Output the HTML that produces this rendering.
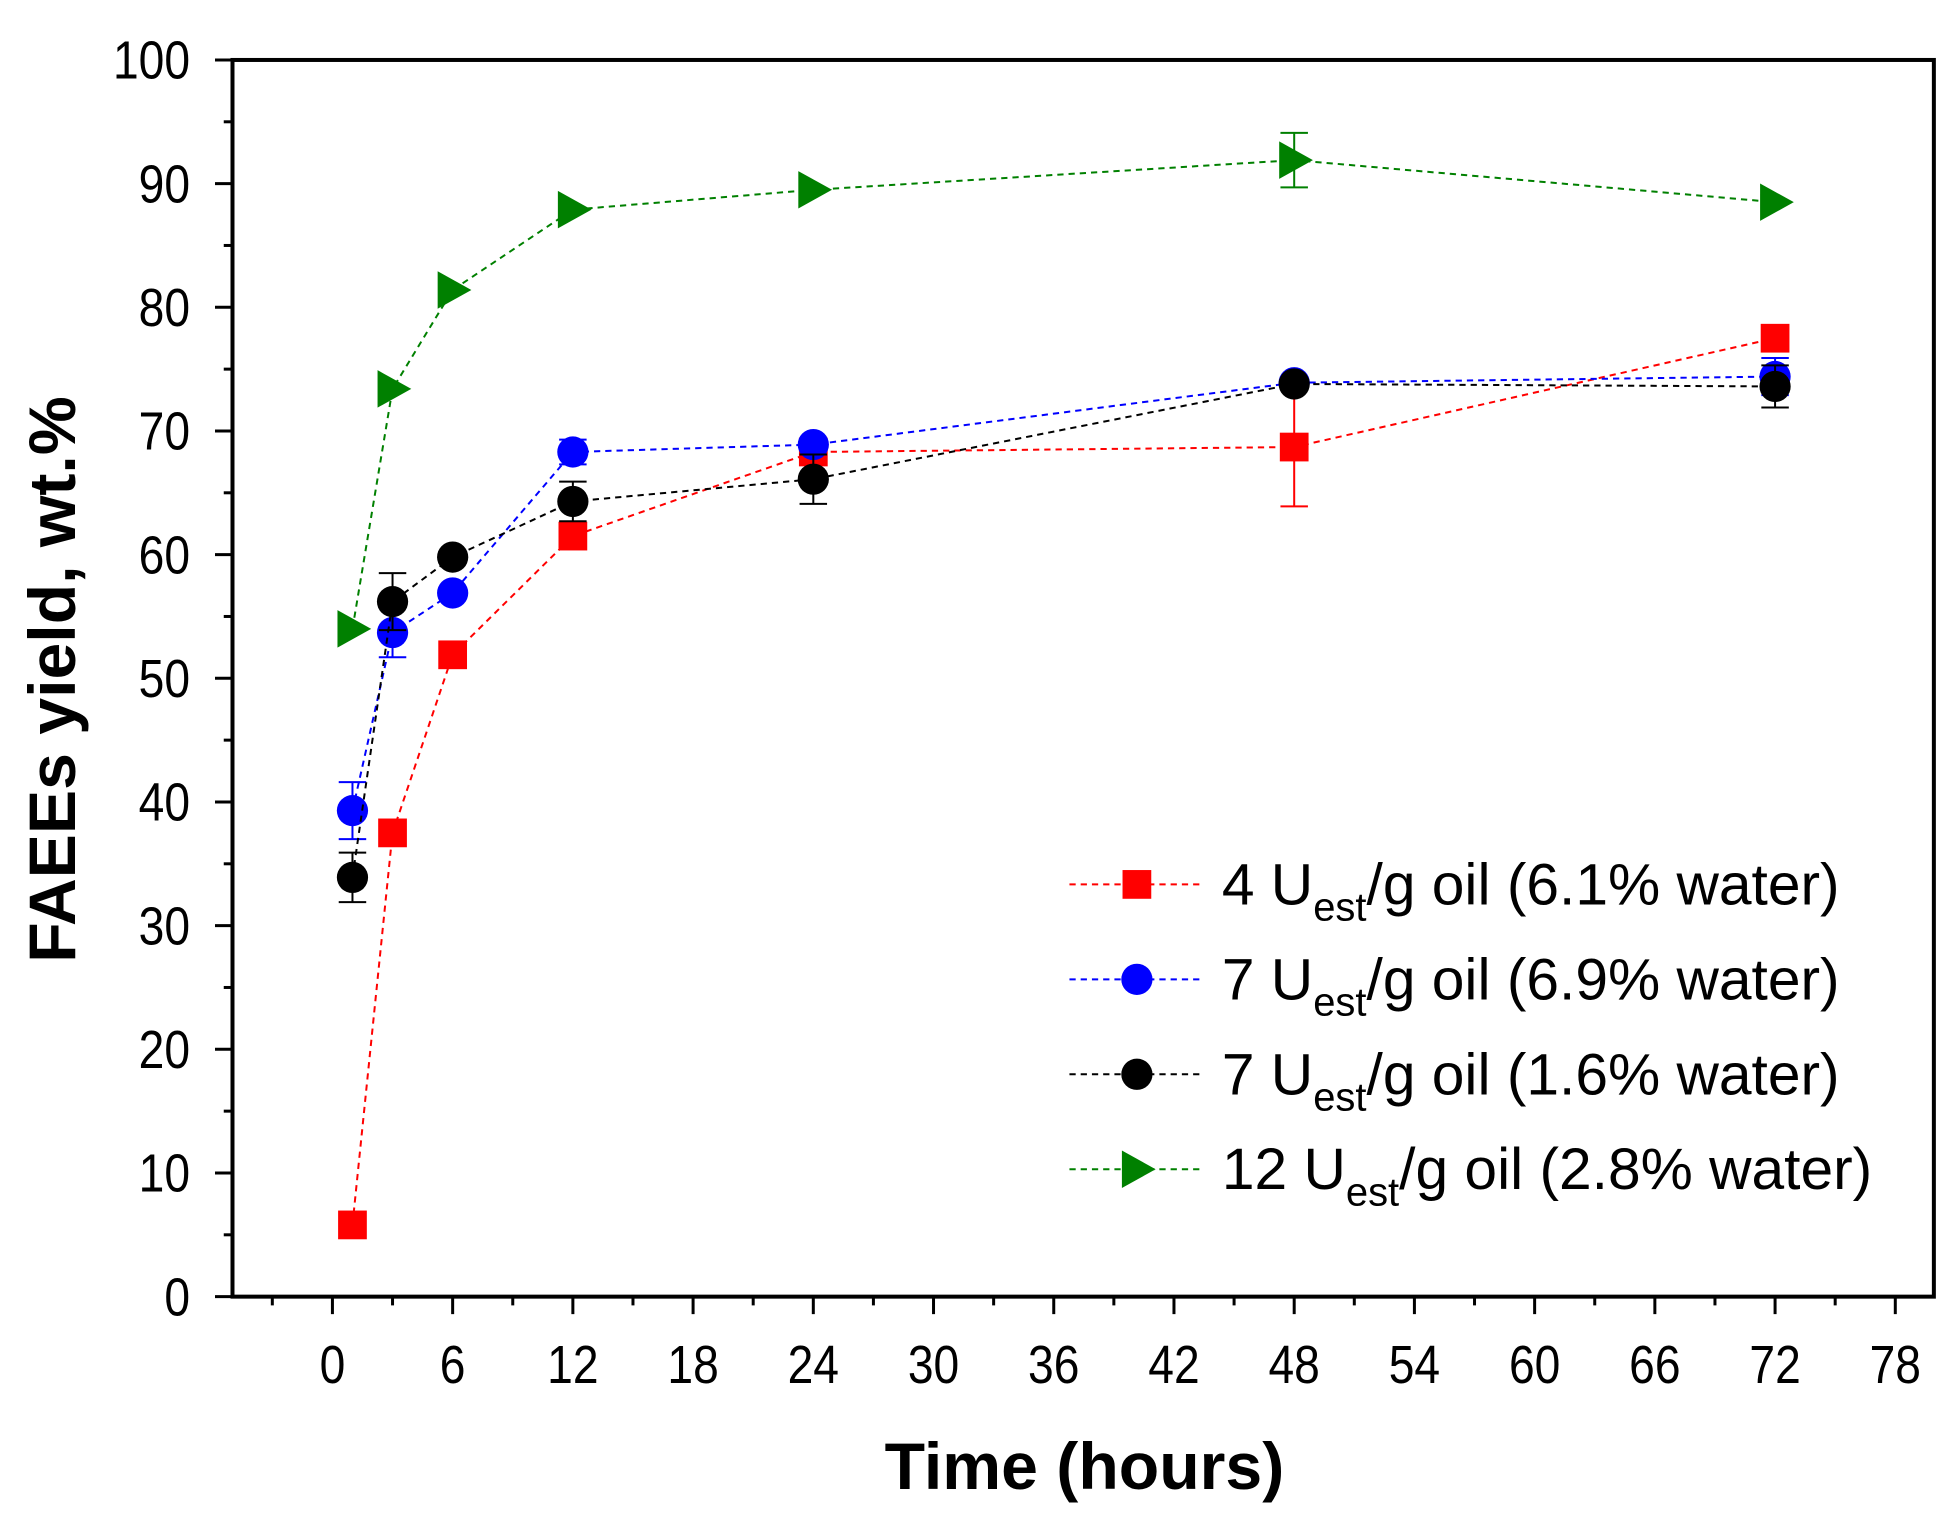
<!DOCTYPE html>
<html><head><meta charset="utf-8"><style>
html,body{margin:0;padding:0;background:#fff;}
svg{display:block;}
text{font-family:"Liberation Sans",Arial,sans-serif;}
</style></head><body>
<svg width="1959" height="1514" viewBox="0 0 1568 1212" xmlns="http://www.w3.org/2000/svg">
<rect width="1568" height="1212" fill="#fff"/>
<g id="plot"></g>
<script>
const NS="http://www.w3.org/2000/svg";
const g=document.getElementById('plot');
function el(t,a,p){const e=document.createElementNS(NS,t);for(const k in a)e.setAttribute(k,a[k]);(p||g).appendChild(e);return e;}
const X=h=>266+16.04*h, Y=v=>1038-9.9*v;
const SX=0.86;
el('rect',{x:186,y:48,width:1362,height:990,fill:'none',stroke:'#000','stroke-width':3.2});
for(let v=0;v<=100;v+=5){const maj=v%10==0;el('line',{x1:186,x2:maj?172:179,y1:Y(v),y2:Y(v),stroke:'#000','stroke-width':2.4});
 if(maj){const t=el('text',{x:152/SX,y:Y(v)+15,'font-size':43,'text-anchor':'end',transform:`scale(${SX},1)`});t.textContent=v;}}
for(let h=-3;h<=78;h+=3){const maj=h%6==0;el('line',{x1:X(h),x2:X(h),y1:1038,y2:maj?1052:1045,stroke:'#000','stroke-width':2.4});
 if(maj&&h>=0){const t=el('text',{x:X(h)/SX,y:1107,'font-size':43,'text-anchor':'middle',transform:`scale(${SX},1)`});t.textContent=h;}}
let t=el('text',{x:868,y:1192,'font-size':53,'font-weight':'bold','text-anchor':'middle'});t.textContent='Time (hours)';
t=el('text',{x:0,y:0,'font-size':53,'font-weight':'bold','text-anchor':'middle',transform:'translate(60,544) rotate(-90)'});t.textContent='FAEEs yield, wt.%';
const hs=[1,3,6,12,24,48,72];
const S=[
 {c:'#ff0000',m:'sq',v:[5.8,37.5,51.9,61.5,68.3,68.7,77.5],e:[0,0,0,0,1,4.8,1]},
 {c:'#0000ff',m:'ci',v:[39.3,53.7,56.9,68.3,68.9,73.9,74.4],e:[2.3,2,0,1,0.5,0,1.5]},
 {c:'#000000',m:'ci',v:[33.9,56.2,59.8,64.3,66.1,73.8,73.6],e:[2,2.3,0,1.6,2,0,1.7]},
 {c:'#008000',m:'tr',v:[54,73.4,81.4,87.9,89.5,91.9,88.5],e:[0,0,0,0,0,2.2,0]}];
function marker(m,x,y,c){
 if(m=='sq')el('rect',{x:x-11.5,y:y-11.5,width:23,height:23,fill:c});
 else if(m=='ci')el('circle',{cx:x,cy:y,r:12.5,fill:c});
 else el('polygon',{points:`${x-12},${y-15} ${x+15},${y} ${x-12},${y+15}`,fill:c});
}
S.forEach(s=>{
 el('polyline',{points:hs.map((h,i)=>X(h)+','+Y(s.v[i])).join(' '),fill:'none',stroke:s.c,'stroke-width':1.6,'stroke-dasharray':'5,4'});
 hs.forEach((h,i)=>{if(s.e[i]>0){const x=X(h),y1=Y(s.v[i]+s.e[i]),y2=Y(s.v[i]-s.e[i]);
  el('line',{x1:x,x2:x,y1:y1,y2:y2,stroke:s.c,'stroke-width':1.6});
  el('line',{x1:x-11,x2:x+11,y1:y1,y2:y1,stroke:s.c,'stroke-width':1.6});
  el('line',{x1:x-11,x2:x+11,y1:y2,y2:y2,stroke:s.c,'stroke-width':1.6});}});
 hs.forEach((h,i)=>marker(s.m,X(h),Y(s.v[i]),s.c));
});
const L=[['4','6.1'],['7','6.9'],['7','1.6'],['12','2.8']];
L.forEach((l,i)=>{const y=708+i*76,s=S[i];
 el('line',{x1:856,x2:962,y1:y,y2:y,stroke:s.c,'stroke-width':1.6,'stroke-dasharray':'5,4'});
 marker(s.m,910,y,s.c);
 const t=el('text',{x:978,y:y+16,'font-size':47});
 const a=el('tspan',{},t);a.textContent=l[0]+' U';
 const b=el('tspan',{'font-size':32,dy:13},t);b.textContent='est';
 const c=el('tspan',{dy:-13},t);c.textContent='/g oil ('+l[1]+'% water)';
});
</script>
</svg>
</body></html>
